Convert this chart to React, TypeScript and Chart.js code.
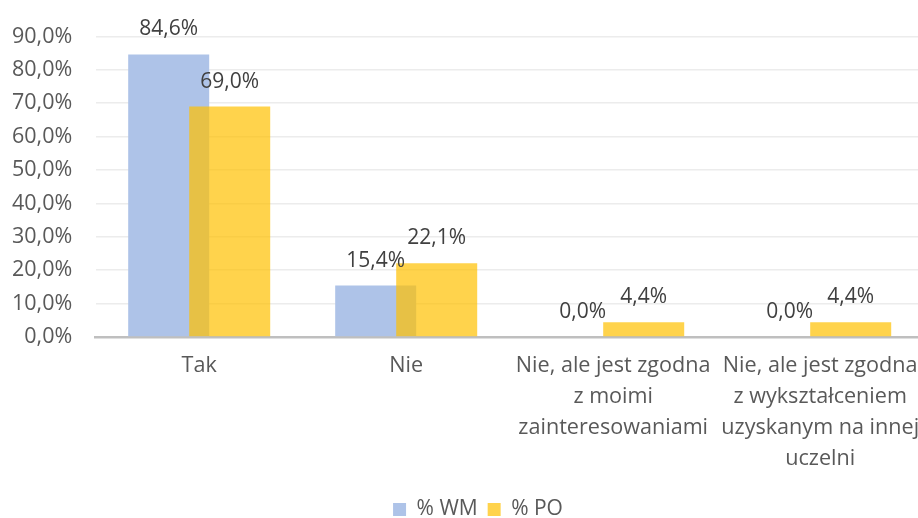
import React, { useEffect, useRef } from "react";
import { Chart, registerables } from "chart.js";

Chart.register(...registerables);

const categories: string[][] = [
  ["Tak"],
  ["Nie"],
  ["Nie, ale jest zgodna", "z moimi", "zainteresowaniami"],
  ["Nie, ale jest zgodna", "z wykształceniem", "uzyskanym na innej", "uczelni"],
];
const seriesNames = ["% WM", "% PO"];
const wmValues = [84.6, 15.4, 0.0, 0.0];
const poValues = [69.0, 22.1, 4.4, 4.4];
const yMin = 0;
const yMax = 90;
const yStep = 10;

const FONT = "'Open Sans', 'Noto Sans', sans-serif";
const fmt = (v: number) => v.toFixed(1).replace(".", ",") + "%";

// Draw datasets in index order so the second series (PO) lies on top of the first (WM).
const drawInOrder = {
  id: "drawInOrder",
  beforeDatasetsDraw(chart: any) {
    for (let i = 0; i < chart.data.datasets.length; i++) {
      const meta = chart.getDatasetMeta(i);
      if (meta.visible !== false) meta.controller.draw();
    }
    return false;
  },
};

const dataLabels = {
  id: "dataLabels",
  afterDraw(chart: any) {
    const ctx = chart.ctx;
    ctx.save();
    ctx.font = `21px ${FONT}`;
    ctx.fillStyle = "#404040";
    ctx.textAlign = "center";
    ctx.textBaseline = "middle";
    chart.data.datasets.forEach((ds: any, i: number) => {
      const meta = chart.getDatasetMeta(i);
      meta.data.forEach((el: any, j: number) => {
        ctx.fillText(fmt(ds.data[j]), el.x, el.y - 25);
      });
    });
    ctx.restore();
  },
};

export default function App() {
  const ref = useRef<HTMLCanvasElement | null>(null);
  useEffect(() => {
    if (!ref.current) return;
    const chart = new Chart(ref.current, {
      type: "bar",
      data: {
        labels: categories as any,
        datasets: [
          {
            label: seriesNames[0],
            data: wmValues,
            backgroundColor: "#aec3e8",
            borderWidth: 0,
            categoryPercentage: 0.5894,
            barPercentage: 1.328,
            yAxisID: "y",
          },
          {
            label: seriesNames[1],
            data: poValues,
            backgroundColor: "rgba(255,192,0,0.7)",
            borderWidth: 0,
            categoryPercentage: 0.5894,
            barPercentage: 1.328,
            yAxisID: "y",
          },
        ],
      },
      options: {
        responsive: false,
        maintainAspectRatio: false,
        animation: false,
        events: [],
        devicePixelRatio: 1,
        layout: { padding: { top: 32, left: 0, right: 0, bottom: 0 } },
        plugins: {
          tooltip: { enabled: false },
          legend: {
            position: "bottom",
            labels: {
              boxWidth: 13,
              boxHeight: 13,
              padding: 10,
              color: "#595959",
              font: { size: 21, family: FONT },
            },
          },
        },
        scales: {
          x: {
            grid: { display: false, drawTicks: false },
            border: { display: true, color: "#bfbfbf", width: 2.5 },
            ticks: {
              color: "#595959",
              padding: 14,
              maxRotation: 0,
              autoSkip: false,
              font: { size: 21.6, family: FONT, lineHeight: 1.42 },
            },
            afterFit: (scale: any) => {
              scale.height = 152;
            },
          },
          y: {
            position: "left",
            min: yMin,
            max: yMax,
            border: { display: false },
            grid: {
              drawTicks: false,
              color: (c: any) => (c.tick && c.tick.value === 0 ? "rgba(0,0,0,0)" : "#ececec"),
              lineWidth: 1.6,
            },
            ticks: {
              stepSize: yStep,
              padding: 23.5,
              color: "#595959",
              font: { size: 21.5, family: FONT },
              callback: (v: any) => fmt(Number(v)),
            },
            afterFit: (scale: any) => {
              scale.width = 95.7;
            },
          },
          yRight: {
            type: "linear",
            position: "right",
            display: true,
            border: { display: false },
            grid: { display: false, drawTicks: false },
            ticks: { display: false },
            afterFit: (scale: any) => {
              scale.width = 32.3;
            },
          },
        },
      },
      plugins: [drawInOrder, dataLabels],
    });
    return () => chart.destroy();
  }, []);
  return (
    <div
      style={{
        position: "fixed",
        left: 0,
        top: 0,
        width: 918,
        height: 518,
        overflow: "hidden",
        background: "#ffffff",
      }}
    >
      <canvas ref={ref} width={956} height={530} style={{ display: "block" }} />
    </div>
  );
}
